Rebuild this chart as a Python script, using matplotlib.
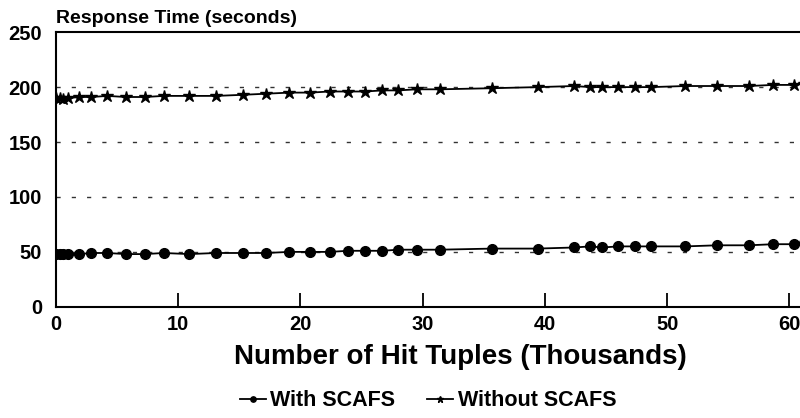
import matplotlib.pyplot as plt

plt.rcParams['font.family'] = ['Liberation Sans', 'DejaVu Sans']

# hit tuples (thousands)
hits = [0, 0.3, 0.6, 1.0, 1.9, 2.9, 4.2, 5.7, 7.3, 8.8, 10.9, 13.1, 15.3, 17.2,
        19.1, 20.8, 22.4, 23.9, 25.3, 26.7, 28.0, 29.5, 31.4, 35.7, 39.4, 42.4,
        43.7, 44.7, 46.0, 47.4, 48.7, 51.5, 54.1, 56.7, 58.7, 60.4, 61.2]
with_scafs = [48, 48, 48, 48, 48, 49, 49, 48, 48, 49, 48, 49, 49, 49, 50, 50,
              50, 51, 51, 51, 52, 52, 52, 53, 53, 54, 55, 54, 55, 55, 55, 55,
              56, 56, 57, 57, 58]
without_scafs = [190, 190, 189, 190, 191, 191, 192, 191, 191, 192, 192, 192,
                 193, 194, 195, 195, 196, 196, 196, 197, 197, 198, 198, 199,
                 200, 201, 200, 200, 200, 200, 200, 201, 201, 201, 202, 202, 203]

fig = plt.figure(figsize=(8, 4.18), dpi=100)
ax = fig.add_axes([0.07, 0.266, 0.935, 0.657])

for yv in [50, 100, 150, 200]:
    ax.axhline(yv, color='#333333', lw=1, ls=(0, (3, 8)), zorder=1)

ax.plot(hits, with_scafs, color='black', lw=1.3, marker='o', ms=7,
        label='With SCAFS', zorder=3)
ax.plot(hits, without_scafs, color='black', lw=1.3, marker='*', ms=9,
        label='Without SCAFS', zorder=3)

ax.set_xlim(0, 61.2)
ax.set_ylim(0, 250)
ax.set_xticks([0, 10, 20, 30, 40, 50, 60])
ax.set_yticks([0, 50, 100, 150, 200, 250])
ax.tick_params(axis='x', direction='in', length=10, width=1.3, pad=6,
               labelsize=14.5)
ax.tick_params(axis='y', length=0, pad=10, labelsize=14.5)
for lab in ax.get_xticklabels() + ax.get_yticklabels():
    lab.set_fontweight('bold')

ax.spines['right'].set_visible(False)
for s in ['left', 'bottom', 'top']:
    ax.spines[s].set_linewidth(1.5)

fig.text(0.576, 0.145, 'Number of Hit Tuples (Thousands)', fontsize=20,
         fontweight='bold', ha='center', va='center')
fig.text(0.07, 0.935, 'Response Time (seconds)', fontsize=14,
         fontweight='bold', ha='left', va='bottom')

fig.legend(loc='lower center', bbox_to_anchor=(0.535, -0.03), ncol=2,
           frameon=False, handlelength=1.2, handletextpad=0.2,
           columnspacing=1.5, markerscale=0.55,
           prop={'size': 15.5, 'weight': 'bold'})

fig.savefig('out.png', dpi=100)
